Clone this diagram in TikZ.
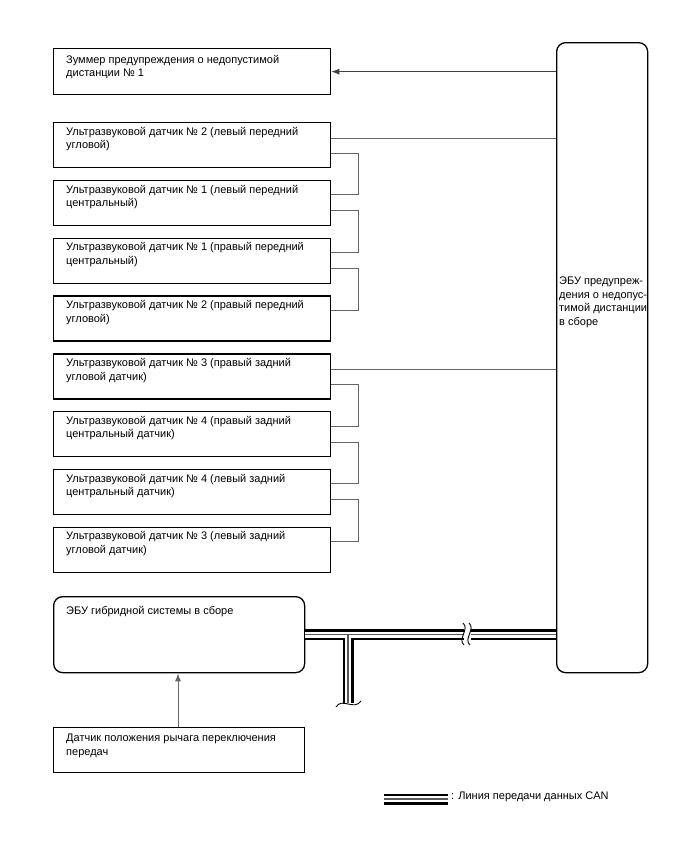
\documentclass[tikz,border=0pt]{standalone}
\usepackage{fontspec}
\setmainfont{Liberation Sans}
\usetikzlibrary{calc,arrows.meta}
\begin{document}
\begin{tikzpicture}[x=1pt,y=-1pt,
  box/.style={draw=black,line width=1.3pt,minimum width=277pt,minimum height=45pt,anchor=north west,inner sep=0pt},
  rbox/.style={draw=black,line width=1.3pt,rounded corners=9pt,anchor=north west,inner sep=0pt},
  txt/.style={anchor=north west,inner sep=0pt,align=left,font=\fontsize{11}{13.5}\selectfont},
  wire/.style={draw=black!60,line width=0.9pt},
  arr/.style={wire,-{Latex[length=8pt,width=6pt]}},
  canA/.style={draw=black,line width=11pt},
  canB/.style={draw=white,line width=6pt},
  canC/.style={draw=black!65,line width=1.1pt}]
\useasboundingbox (0,0) rectangle (688,852);

% boxes
\node[box,minimum height=46pt] (buzz) at (53,48) {};
\node[txt] (tbuzz) at ($(buzz.north west)+(13,7)$) {Зуммер предупреждения о недопустимой\\дистанции № 1};

\node[box] (s1) at (53,122) {};
\node[box] (s2) at (53,179.8) {};
\node[box] (s3) at (53,237.6) {};
\node[box] (s4) at (53,295.4) {};
\node[box] (s5) at (53,353.2) {};
\node[box] (s6) at (53,411) {};
\node[box] (s7) at (53,468.8) {};
\node[box] (s8) at (53,526.6) {};

\node[txt] (t1) at ($(s1.north west)+(13,5)$) {Ультразвуковой датчик № 2 (левый передний\\угловой)};
\node[txt] (t2) at ($(s2.north west)+(13,5)$) {Ультразвуковой датчик № 1 (левый передний\\центральный)};
\node[txt] (t3) at ($(s3.north west)+(13,5)$) {Ультразвуковой датчик № 1 (правый передний\\центральный)};
\node[txt] (t4) at ($(s4.north west)+(13,5)$) {Ультразвуковой датчик № 2 (правый передний\\угловой)};
\node[txt] (t5) at ($(s5.north west)+(13,5)$) {Ультразвуковой датчик № 3 (правый задний\\угловой датчик)};
\node[txt] (t6) at ($(s6.north west)+(13,5)$) {Ультразвуковой датчик № 4 (правый задний\\центральный датчик)};
\node[txt] (t7) at ($(s7.north west)+(13,5)$) {Ультразвуковой датчик № 4 (левый задний\\центральный датчик)};
\node[txt] (t8) at ($(s8.north west)+(13,5)$) {Ультразвуковой датчик № 3 (левый задний\\угловой датчик)};

\node[rbox,minimum width=251pt,minimum height=76pt] (hyb) at (53,596) {};
\node[txt] (thyb) at ($(hyb.north west)+(13,10)$) {ЭБУ гибридной системы в сборе};

\node[box,minimum width=251pt,minimum height=45pt] (gear) at (53,727) {};
\node[txt] (tgear) at ($(gear.north west)+(13,7)$) {Датчик положения рычага переключения\\передач};

\node[rbox,minimum width=91pt,minimum height=630pt] (ecu) at (556,42) {};
\node[txt] (tecu) at (559,277) {ЭБУ предупреж-\\дения о недопус-\\тимой дистанции\\в сборе};

% connectors
\draw[arr,draw=black!75] (ecu.west |- buzz.east) -- (buzz.east);
\coordinate (c1) at ($(s1.north east)+(0,16)$);
\coordinate (c5) at ($(s5.north east)+(0,16)$);
\draw[wire] (ecu.west |- c1) -- (c1);
\draw[wire] (ecu.west |- c5) -- (c5);
\foreach \a/\b in {s1/s2,s2/s3,s3/s4,s5/s6,s6/s7,s7/s8}{
  \draw[wire] ($(\a.north east)+(0,31)$) -- ++(27,0) |- ($(\b.north east)+(0,15)$);
}
\draw[arr] (gear.north -| 178,0) coordinate (g1) -- (hyb.south -| g1);

% CAN bus
\coordinate (h1) at (hyb.east);
\coordinate (h2) at (ecu.west |- hyb.east);
\coordinate (v1) at (348,634);
\coordinate (v2) at (348,703);
\draw[canA] (h1) -- (h2);
\draw[canA] (v1) -- (v2);
\draw[canB] (h1) -- (h2);
\draw[canB] (v1) -- (v2);
\draw[canC] (h1) -- (h2);
\draw[canC] (v1) -- (v2);
% break on horizontal
\fill[white] (463.5,627) rectangle (470.5,641);
\draw[black,line width=0.9pt] (463,623) .. controls (470,629) and (457,639) .. (464,645);
\draw[black,line width=0.9pt] (469,623) .. controls (476,629) and (463,639) .. (470,645);
% break at bottom of vertical
\fill[white] (338,703) rectangle (358,712);
\draw[black,line width=0.9pt] (336,707) .. controls (342,697) and (354,711) .. (361,701);

% legend
\coordinate (l1) at (384,799);
\coordinate (l2) at (448,799);
\draw[canA] (l1) -- (l2);
\draw[canB] (l1) -- (l2);
\draw[canC] (l1) -- (l2);
\node[txt,anchor=west] (tleg) at (451,797) {: Линия передачи данных CAN};
\end{tikzpicture}
\end{document}
